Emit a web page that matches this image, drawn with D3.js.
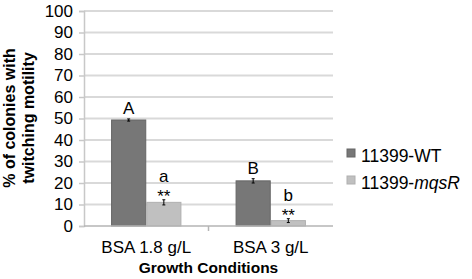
<!DOCTYPE html>
<html>
<head>
<meta charset="utf-8">
<script src="https://cdn.jsdelivr.net/npm/d3@7"></script>
<style>
  body { margin: 0; background: #fff; }
  svg { font-family: Arial, "Liberation Sans", sans-serif; }
</style>
</head>
<body>
<div id="chart"></div>
<script>
// data
const conditions = ["BSA 1.8 g/L", "BSA 3 g/L"];
const strains = ["11399-WT", "11399-mqsR"];
const wtValues = [49.3, 21.0];
const mqsRValues = [11.0, 2.5];
const wtErrors = [0.5, 1.0];
const mqsRErrors = [1.2, 0.9];
const wtLetters = ["A", "B"];
const mqsRLetters = ["a", "b"];
const mqsRStars = ["**", "**"];
const yTicks = [0, 10, 20, 30, 40, 50, 60, 70, 80, 90, 100];

const width = 472, height = 279;
const margin = {top: 11, right: 139, bottom: 53, left: 84};

const colors = {"11399-WT": "#777777", "11399-mqsR": "#c0c0c0"};
const strokes = {"11399-WT": "#666666", "11399-mqsR": "#b0b0b0"};

const rows = [];
conditions.forEach((c, i) => {
    rows.push({cond: c, strain: strains[0], value: wtValues[i], err: wtErrors[i], letter: wtLetters[i], stars: ""});
    rows.push({cond: c, strain: strains[1], value: mqsRValues[i], err: mqsRErrors[i], letter: mqsRLetters[i], stars: mqsRStars[i]});
});

const svg = d3.select("#chart").append("svg")
    .attr("width", width)
    .attr("height", height);

const x0 = d3.scaleBand()
    .domain(conditions)
    .range([margin.left, width - margin.right])
    .paddingInner(0.435)
    .paddingOuter(0.2175);

const x1 = d3.scaleBand()
    .domain(strains)
    .range([0, x0.bandwidth()]);

const y = d3.scaleLinear()
    .domain([0, 100])
    .range([height - margin.bottom, margin.top]);

// gridlines
svg.append("g")
    .selectAll("line")
    .data(yTicks.filter(d => d > 0))
    .join("line")
    .attr("x1", margin.left)
    .attr("x2", width - margin.right)
    .attr("y1", d => y(d))
    .attr("y2", d => y(d))
    .attr("stroke", "#d9d9d9")
    .attr("stroke-width", 2);

// y axis
const yAxis = svg.append("g")
    .attr("transform", `translate(${margin.left},0)`)
    .call(d3.axisLeft(y).tickValues(yTicks).tickSize(5).tickPadding(6));
yAxis.select(".domain").attr("stroke", "#c8c8c8").attr("stroke-width", 1.5);
yAxis.selectAll(".tick line").attr("stroke", "#c8c8c8").attr("stroke-width", 1.5);
yAxis.selectAll(".tick text")
    .attr("font-size", 17)
    .attr("fill", "#000")
    .attr("font-family", "Arial, 'Liberation Sans', sans-serif");

// bars
const groups = svg.append("g")
    .selectAll("g")
    .data(rows)
    .join("g")
    .attr("transform", d => `translate(${x0(d.cond) + x1(d.strain)},0)`);

groups.append("rect")
    .attr("x", 0.5)
    .attr("width", x1.bandwidth() - 1)
    .attr("y", d => y(d.value))
    .attr("height", d => y(0) - y(d.value))
    .attr("fill", d => colors[d.strain])
    .attr("stroke", d => strokes[d.strain])
    .attr("stroke-width", 1);

// error bars
const cx = x1.bandwidth() / 2;
groups.append("line")
    .attr("x1", cx).attr("x2", cx)
    .attr("y1", d => y(d.value + d.err))
    .attr("y2", d => y(d.value - d.err))
    .attr("stroke", "#000").attr("stroke-width", 1);
groups.append("line")
    .attr("x1", cx - 1.5).attr("x2", cx + 1.5)
    .attr("y1", d => y(d.value + d.err))
    .attr("y2", d => y(d.value + d.err))
    .attr("stroke", "#000").attr("stroke-width", 1);
groups.append("line")
    .attr("x1", cx - 1.5).attr("x2", cx + 1.5)
    .attr("y1", d => y(d.value - d.err))
    .attr("y2", d => y(d.value - d.err))
    .attr("stroke", "#000").attr("stroke-width", 1);

// significance labels (letter above, stars just over the error bar)
groups.append("text")
    .attr("x", cx)
    .attr("y", d => y(d.value + d.err) - (d.stars ? 17.5 : 5))
    .attr("text-anchor", "middle")
    .attr("font-size", 17)
    .text(d => d.letter);
groups.filter(d => d.stars).append("text")
    .attr("x", cx)
    .attr("y", d => y(d.value + d.err) + 2.5)
    .attr("text-anchor", "middle")
    .attr("font-size", 17)
    .text(d => d.stars);

// x axis baseline
svg.append("line")
    .attr("x1", margin.left)
    .attr("x2", width - margin.right)
    .attr("y1", y(0))
    .attr("y2", y(0))
    .attr("stroke", "#b5b5b5")
    .attr("stroke-width", 1.5);

// category separator tick
const sep = (x0(conditions[0]) + x0.bandwidth() + x0(conditions[1])) / 2;
svg.append("line")
    .attr("x1", sep).attr("x2", sep)
    .attr("y1", y(0)).attr("y2", y(0) + 5)
    .attr("stroke", "#b5b5b5").attr("stroke-width", 1.5);

// x tick labels
svg.append("g")
    .selectAll("text")
    .data(conditions)
    .join("text")
    .attr("x", d => x0(d) + x0.bandwidth() / 2)
    .attr("y", 253)
    .attr("text-anchor", "middle")
    .attr("font-size", 17)
    .text(d => d);

// axis titles
svg.append("text")
    .attr("x", (margin.left + width - margin.right) / 2)
    .attr("y", 272.5)
    .attr("text-anchor", "middle")
    .attr("font-size", 15.5)
    .attr("font-weight", "bold")
    .text("Growth Conditions");

const yTitle = svg.append("text")
    .attr("transform", "translate(15,118) rotate(-90)")
    .attr("text-anchor", "middle")
    .attr("font-size", 16)
    .attr("font-weight", "bold");
yTitle.append("tspan").attr("x", 0).attr("dy", 0).text("% of colonies with");
yTitle.append("tspan").attr("x", 0).attr("dy", 18.5).text("twitching motility");

// legend
const legend = svg.append("g")
    .selectAll("g")
    .data(strains)
    .join("g")
    .attr("transform", (d, i) => `translate(347,${157 + i * 27})`);
legend.append("rect")
    .attr("x", 0).attr("y", -8)
    .attr("width", 8).attr("height", 8)
    .attr("fill", d => colors[d])
    .attr("stroke", d => strokes[d]);
const legendText = legend.append("text")
    .attr("x", 14)
    .attr("y", 0)
    .attr("dy", "0.3em")
    .attr("font-size", 17.5);
legendText.append("tspan").text(d => d.split("-")[0] + "-");
legendText.append("tspan")
    .attr("font-style", d => d === "11399-mqsR" ? "italic" : "normal")
    .text(d => d.split("-")[1]);
</script>
</body>
</html>
